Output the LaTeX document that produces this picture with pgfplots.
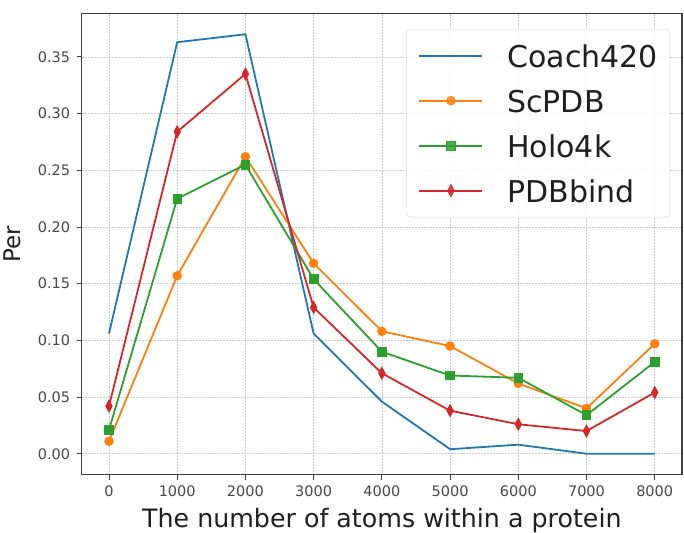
\documentclass[border=0pt]{standalone}
\usepackage{pgfplots}
\pgfplotsset{compat=1.18}
\usepackage{fontspec}
\setmainfont{DejaVu Sans}
\definecolor{c0}{HTML}{1F77B4}
\definecolor{c1}{HTML}{FF7F0E}
\definecolor{c2}{HTML}{2CA02C}
\definecolor{c3}{HTML}{D62728}
\begin{document}
\begin{tikzpicture}
\begin{axis}[
  width=600.3pt, height=461.4pt, scale only axis,
  xmin=-400, xmax=8400, ymin=-0.0185, ymax=0.3885,
  xtick={0,1000,2000,3000,4000,5000,6000,7000,8000},
  ytick={0,0.05,0.10,0.15,0.20,0.25,0.30,0.35},
  /pgf/number format/assume math mode=true,
  x tick label style={/pgf/number format/set thousands separator={}, /pgf/number format/fixed, yshift=-2pt},
  y tick label style={/pgf/number format/fixed, /pgf/number format/precision=2, /pgf/number format/fixed zerofill, xshift=-3pt},
  tick label style={font=\fontsize{14.5}{17}\selectfont, text=black!72},
  tick align=outside, tick pos=left,
  major tick length=5pt,
  every tick/.style={black!75, line width=0.9pt},
  axis line style={black!75, line width=1.2pt},
  grid=major,
  major grid style={gray!40, line width=0.7pt, dash pattern=on 2pt off 1pt},
  xlabel={The number of atoms within a protein},
  ylabel={Per},
  xlabel style={font=\fontsize{25.3}{30}\selectfont, text=black!88, at={(axis description cs:0.5,-0.1134)}, anchor=base, inner sep=0pt},
  ylabel style={font=\fontsize{23}{27}\selectfont, text=black!88, at={(axis description cs:-0.131,0.5)}, anchor=north, rotate=0, inner sep=0pt},
  legend style={at={(0.98,0.966)}, anchor=north east, draw=gray!35, rounded corners=4pt, fill=white, fill opacity=0.85, text opacity=1,
    font=\fontsize{30}{35}\selectfont, text=black!88, inner xsep=12pt, inner ysep=15pt, row sep=22pt, column sep=24pt,
    nodes={inner sep=0pt, text height=23pt, text depth=0pt}},
  legend cell align=left,
  legend image code/.code={\draw[mark repeat=2,mark phase=2] plot coordinates {(0pt,0pt) (31.5pt,0pt) (63pt,0pt)};},
]
\addplot[c0, line width=1.8pt, no marks] coordinates {
 (0,0.106) (1000,0.363) (2000,0.370) (3000,0.106) (4000,0.046) (5000,0.004) (6000,0.008) (7000,0.000) (8000,0.000)};
\addlegendentry{Coach420}
\addplot[c1, line width=1.8pt, mark=*, mark size=4.3pt, mark options={solid, fill=c1, draw=c1, line width=0.8pt}] coordinates {
 (0,0.011) (1000,0.157) (2000,0.262) (3000,0.168) (4000,0.108) (5000,0.095) (6000,0.062) (7000,0.040) (8000,0.097)};
\addlegendentry{ScPDB}
\addplot[c2, line width=1.8pt, mark=square*, mark size=4.3pt, mark options={solid, fill=c2, draw=c2, line width=0.8pt}] coordinates {
 (0,0.021) (1000,0.225) (2000,0.255) (3000,0.154) (4000,0.090) (5000,0.069) (6000,0.067) (7000,0.034) (8000,0.081)};
\addlegendentry{Holo4k}
\addplot[c3, line width=1.8pt, mark=diamond*, mark size=6pt, mark options={solid, fill=c3, draw=c3, line width=0.8pt, xscale=0.72}] coordinates {
 (0,0.042) (1000,0.284) (2000,0.335) (3000,0.129) (4000,0.071) (5000,0.038) (6000,0.026) (7000,0.020) (8000,0.054)};
\addlegendentry{PDBbind}
\end{axis}
\path ([shift={(-81.7pt,-57.3pt)}]current axis.south west) rectangle ([shift={(2pt,13.3pt)}]current axis.north east);
\end{tikzpicture}
\end{document}
